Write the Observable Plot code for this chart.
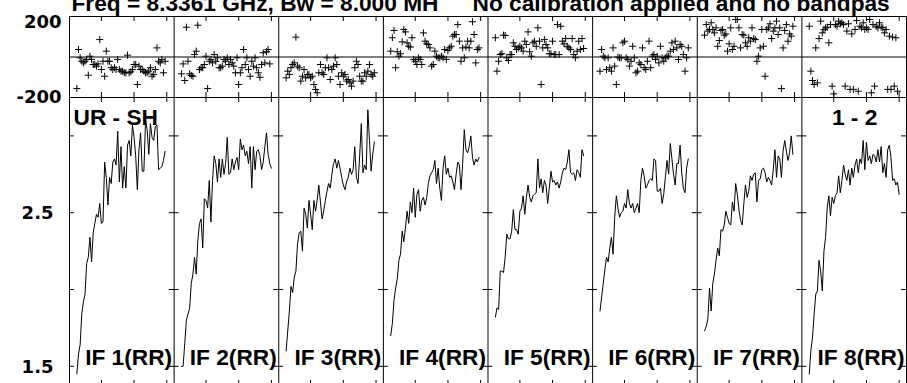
<!DOCTYPE html>
<html><head><meta charset="utf-8">
<script src="https://cdn.jsdelivr.net/npm/d3@7"></script>
<script src="https://cdn.jsdelivr.net/npm/@observablehq/plot@0.6"></script>
<style>
html,body{margin:0;padding:0;background:#fff;overflow:hidden;}
#wrap{position:relative;width:907px;height:383px;overflow:hidden;background:#fff;}
#wrap svg{position:absolute;left:0;overflow:visible;background:transparent;}
</style></head>
<body><div id="wrap"></div>
<script>
// ---------- data ----------
const titleLeft = "Freq = 8.3361 GHz, Bw = 8.000 MH";
const titleRight = "No calibration applied and no bandpas";
const baselineLabel = "UR - SH";
const stokesLabel = "1 - 2";
const ifLabels = ["IF 1(RR)","IF 2(RR)","IF 3(RR)","IF 4(RR)","IF 5(RR)","IF 6(RR)","IF 7(RR)","IF 8(RR)"];
const nChan = 64;
const firstChannel = 5;
const channelTicks = [20, 40, 60];
const phaseDomain = [-200, 200];
const phaseTickLabels = [200, -200];
const ampDomain = [1.375, 3.25];
const ampTicks = [1.5, 2.0, 2.5, 3.0];
const ampTickLabels = ["2.5", "1.5"];
const ampTickLabelValues = [2.5, 1.5];

// amplitude per IF (channels 5..)
const amp1 = [1.45,1.58,1.64,1.84,1.92,1.97,2.17,2.21,2.34,2.18,2.37,2.43,2.49,2.47,2.56,2.43,2.44,2.83,2.73,2.55,2.73,2.69,2.83,2.85,2.81,3.03,2.70,2.93,2.66,2.80,2.66,2.94,2.97,2.87,3.07,2.99,2.87,2.65,2.91,3.02,2.77,2.77,3.10,3.04,2.88,3.08,2.99,2.97,3.06,3.07,2.78,2.79,2.80,2.84,2.90];
const amp2 = [1.50,1.50,1.65,1.80,1.84,1.88,2.04,2.10,2.21,2.10,2.32,2.43,2.46,2.27,2.59,2.58,2.53,2.71,2.44,2.71,2.87,2.82,2.70,2.85,2.73,2.85,2.75,2.82,2.99,2.75,2.76,2.85,2.78,2.83,2.86,2.78,2.98,2.91,2.94,2.87,2.90,2.82,2.93,2.66,2.93,2.78,2.90,2.91,2.87,2.78,2.83,2.93,3.02,2.88,2.82,2.79];
const amp3 = [1.60,1.73,1.86,2.02,1.98,2.08,2.12,2.30,2.37,2.38,2.25,2.53,2.49,2.40,2.58,2.49,2.39,2.58,2.51,2.58,2.68,2.57,2.46,2.51,2.58,2.64,2.69,2.66,2.75,2.82,2.85,2.79,2.84,2.79,2.73,2.68,2.65,2.70,2.73,2.79,2.75,2.78,2.93,2.73,2.69,2.87,3.08,2.76,2.81,2.78,3.17,2.97,2.77,2.88,2.96];
const amp4 = [1.70,1.78,1.93,2.01,2.07,2.19,2.23,2.38,2.31,2.40,2.51,2.43,2.57,2.50,2.66,2.47,2.62,2.65,2.51,2.58,2.60,2.55,2.60,2.69,2.74,2.76,2.78,2.84,2.69,2.79,2.66,2.58,2.79,2.87,2.75,2.79,2.73,2.74,2.70,2.65,2.75,2.83,2.81,2.65,2.82,3.04,2.91,2.89,2.93,3.00,2.86,2.81,2.85,2.83,2.86];
const amp5 = [1.82,1.88,1.87,2.12,2.12,2.11,2.21,2.36,2.33,2.33,2.38,2.52,2.39,2.39,2.36,2.51,2.53,2.61,2.49,2.60,2.68,2.60,2.57,2.61,2.62,2.63,2.85,2.66,2.72,2.63,2.71,2.68,2.56,2.66,2.77,2.70,2.71,2.68,2.70,2.66,2.70,2.76,2.79,2.78,2.83,2.91,2.76,2.75,2.76,2.71,2.78,2.76,2.73,2.91,2.87];
const amp6 = [1.86,1.95,2.04,2.13,2.21,2.18,2.27,2.34,2.23,2.47,2.61,2.53,2.47,2.50,2.51,2.56,2.53,2.65,2.56,2.53,2.56,2.50,2.53,2.56,2.50,2.71,2.79,2.74,2.66,2.68,2.71,2.72,2.71,2.85,2.84,2.64,2.64,2.66,2.56,2.62,2.73,2.84,2.75,2.95,2.85,2.75,2.68,2.82,2.82,2.94,2.76,2.66,2.63,2.79,2.85];
const amp7 = [1.73,1.76,1.81,2.01,1.86,2.04,2.10,2.19,2.27,2.22,2.39,2.38,2.42,2.51,2.47,2.43,2.42,2.57,2.51,2.69,2.62,2.52,2.45,2.42,2.56,2.68,2.60,2.64,2.74,2.71,2.75,2.76,2.57,2.71,2.72,2.78,2.79,2.76,2.70,2.73,2.71,2.68,2.78,2.91,2.73,2.87,2.85,2.73,2.90,2.97,2.90,2.84,2.89,3.00,2.88];
const amp8 = [1.45,1.60,1.69,1.84,1.97,1.99,2.19,2.12,1.99,2.25,2.34,2.53,2.61,2.48,2.60,2.56,2.61,2.63,2.74,2.63,2.71,2.81,2.75,2.71,2.78,2.68,2.79,2.73,2.81,2.85,2.76,2.85,2.82,2.97,2.78,2.96,2.84,2.87,2.82,2.88,2.87,2.83,2.91,2.83,2.93,2.76,2.82,2.73,2.91,2.94,2.86,2.71,2.72,2.68,2.70,2.62];

// phase per IF (degrees, channels 5..)
const ph1 = [-156,37,-4,-21,-29,-21,-12,-90,4,-12,-37,-37,-45,-34,86,-62,-21,-95,29,-21,-21,-53,-62,-53,-62,-12,-62,-70,-70,-78,-78,9,-78,-73,-62,-37,-37,-136,-45,-62,-62,-70,-78,-78,-70,-53,-95,-86,-62,45,-21,-29,-12,-78,-21];
const ph2 = [-83,-34,-116,147,-21,-83,-91,-95,12,29,157,-62,-53,-53,-37,4,-156,-21,-12,-29,12,-21,-4,-53,-53,-45,-12,-21,-4,-37,-12,-29,-45,-78,-4,-136,-78,-53,37,-37,-4,-62,-95,-21,-45,-4,-53,-78,-100,-37,21,-29,26,37,-34];
const ph3 = [-103,-70,-86,-53,-37,-29,98,-45,-53,-119,-95,-62,-103,-86,-86,-103,-95,-136,-160,-177,-78,-37,-78,-86,-53,-4,-53,-111,-62,-45,-4,-37,-95,-136,-78,-95,-86,-119,-111,-128,-144,-119,-53,-21,-37,-95,-119,-119,-78,-95,-70,-37,-86,-95,-78];
const ph4 = [29,95,131,-53,26,4,16,75,136,124,70,53,49,95,-12,-21,-37,-4,-12,-37,119,78,65,62,45,-45,-37,29,4,-4,-4,4,-4,37,-12,32,45,53,103,111,111,160,78,-21,45,-4,49,78,45,78,174,111,-29,37,45];
const ph5 = [95,-70,-21,12,16,108,106,-4,-17,12,12,70,53,37,45,53,45,29,78,62,124,26,4,70,78,53,144,78,-136,45,86,62,45,16,16,78,12,12,160,12,152,78,65,91,53,45,37,91,12,-4,29,78,37,91,42];
const ph6 = [-70,37,4,-4,-62,-4,-53,-70,45,-45,-136,-1,-4,-4,70,78,-4,-12,-45,-21,53,-4,-78,-70,-29,-37,45,-53,-62,-21,78,-53,4,12,-12,4,-29,53,-4,-21,-4,4,4,29,70,37,78,45,-12,62,53,12,-70,-4,45];
const ph7 = [108,160,128,136,169,136,119,144,53,81,131,136,108,114,29,65,144,37,53,185,185,144,45,111,108,70,53,95,78,144,91,86,-21,4,45,136,53,-95,136,144,164,91,128,144,177,111,144,-156,45,131,160,78,114,103,152];
const ph8 = [152,-70,-116,-136,45,-128,91,177,119,136,144,147,70,160,-144,-182,160,152,177,164,169,160,-144,128,164,-160,114,-160,136,180,-169,152,144,169,136,144,136,185,-177,160,-144,152,144,169,147,144,119,136,-160,103,-160,98,-144,95,-169];

// ---------- tables ----------
const amps = [amp1, amp2, amp3, amp4, amp5, amp6, amp7, amp8];
const phases = [ph1, ph2, ph3, ph4, ph5, ph6, ph7, ph8];
const ampRows = amps.flatMap((arr, k) => arr.map((v, i) => ({k, x: k * nChan + firstChannel + i, v})));
const phRows = phases.flatMap((arr, k) => arr.map((v, i) => ({k, x: k * nChan + firstChannel + i, v: Math.max(-200, Math.min(200, v))})));
const nIF = ifLabels.length;
const xDomain = [0.5, nIF * nChan + 0.5];
const boundaries = d3.range(0, nIF + 1).map(k => k * nChan + 0.5);
const innerBounds = boundaries.slice(1, -1);
const xTickVals = d3.range(nIF).flatMap(k => channelTicks.map(c => k * nChan + c));
const tickLenCh = 3;
const ampTickRows = boundaries.flatMap((b, j) => ampTicks.map(v => ({
  v, x1: j === 0 ? b : b - tickLenCh, x2: j === nIF ? b : b + tickLenCh
})));

const W = 907, ML = 69, MR = 1;
const serif = "'Liberation Sans', Arial, Helvetica, sans-serif";
const axisFont = "'DejaVu Sans', 'Liberation Sans', sans-serif";
const TK = 5;

// ---------- phase panel ----------
const phTop = 16, phFrameH = 81;
const phasePlot = Plot.plot({
  width: W, height: phTop + phFrameH + 2,
  marginLeft: ML, marginRight: MR, marginTop: phTop, marginBottom: 2,
  x: {domain: xDomain, axis: null},
  y: {domain: phaseDomain, axis: null},
  style: {background: "transparent"},
  marks: [
    Plot.ruleY([0], {stroke: "black", strokeWidth: 1}),
    Plot.ruleX(innerBounds, {stroke: "black", strokeWidth: 1}),
    Plot.ruleX(xTickVals, {stroke: "black", insetBottom: phFrameH - TK}),
    Plot.ruleX(xTickVals, {stroke: "black", insetTop: phFrameH - TK}),
    Plot.dot(phRows, {x: "x", y: "v", symbol: "plus", r: 2.4, stroke: "black", strokeWidth: 1}),
    Plot.frame({stroke: "black", strokeWidth: 1}),
    Plot.text([phaseTickLabels[0]], {frameAnchor: "top-left", y: d => d, text: d => String(d), textAnchor: "end", lineAnchor: "middle", dx: -8, dy: 6, fontFamily: axisFont, fontWeight: "bold", fontSize: 18, fill: "black"}),
    Plot.text([phaseTickLabels[1]], {frameAnchor: "left", y: d => d, text: d => String(d), textAnchor: "end", lineAnchor: "middle", dx: -8, dy: 0, fontFamily: axisFont, fontWeight: "bold", fontSize: 18, fill: "black"}),
    Plot.text([titleLeft], {frameAnchor: "top-left", text: d => d, textAnchor: "start", lineAnchor: "bottom", dx: 2, dy: -6, fontFamily: serif, fontWeight: "bold", fontSize: 22.7, fill: "black"}),
    Plot.text([titleRight], {frameAnchor: "top-left", text: d => d, textAnchor: "start", lineAnchor: "bottom", dx: 403, dy: -6, fontFamily: serif, fontWeight: "bold", fontSize: 22.7, fill: "black"})
  ]
});
phasePlot.style.top = "0px";

// ---------- amplitude panel ----------
const ampTopM = 2, ampFrameH = 288;
const ampPlot = Plot.plot({
  width: W, height: ampTopM + ampFrameH + 2,
  marginLeft: ML, marginRight: MR, marginTop: ampTopM, marginBottom: 2,
  x: {domain: xDomain, axis: null},
  y: {domain: ampDomain, axis: null},
  style: {background: "transparent"},
  marks: [
    Plot.ruleX(innerBounds, {stroke: "black", strokeWidth: 1}),
    Plot.ruleX(xTickVals, {stroke: "black", insetBottom: ampFrameH - TK}),
    Plot.ruleX(xTickVals, {stroke: "black", insetTop: ampFrameH - TK}),
    Plot.ruleY(ampTickRows, {y: "v", x1: "x1", x2: "x2", stroke: "black", strokeWidth: 1}),
    Plot.line(ampRows, {x: "x", y: "v", z: "k", stroke: "black", strokeWidth: 1}),
    Plot.frame({stroke: "black", strokeWidth: 1}),
    Plot.text(ampTickLabelValues, {frameAnchor: "left", y: d => d, text: (d, i) => ampTickLabels[i], textAnchor: "end", lineAnchor: "middle", dx: -16, dy: 1, fontFamily: axisFont, fontWeight: "bold", fontSize: 18, fill: "black"}),
    Plot.text(ifLabels, {x: (d, i) => (i + 1) * nChan + 0.5, frameAnchor: "bottom", text: d => d, textAnchor: "end", lineAnchor: "bottom", dx: -2, dy: -21, fontFamily: serif, fontWeight: "bold", fontSize: 22.7, fill: "black"}),
    Plot.text([baselineLabel], {frameAnchor: "top-left", text: d => d, textAnchor: "start", lineAnchor: "bottom", dx: 4, dy: 27, fontFamily: serif, fontWeight: "bold", fontSize: 22.7, fill: "black"}),
    Plot.text([stokesLabel], {x: () => (nIF - 1) * nChan + 0.5, frameAnchor: "top", text: d => d, textAnchor: "start", lineAnchor: "bottom", dx: 30, dy: 27, fontFamily: serif, fontWeight: "bold", fontSize: 22.7, fill: "black"})
  ]
});
ampPlot.style.top = (phTop + phFrameH - ampTopM) + "px";

const wrap = document.getElementById("wrap");
wrap.appendChild(phasePlot);
wrap.appendChild(ampPlot);
</script>
</body></html>
